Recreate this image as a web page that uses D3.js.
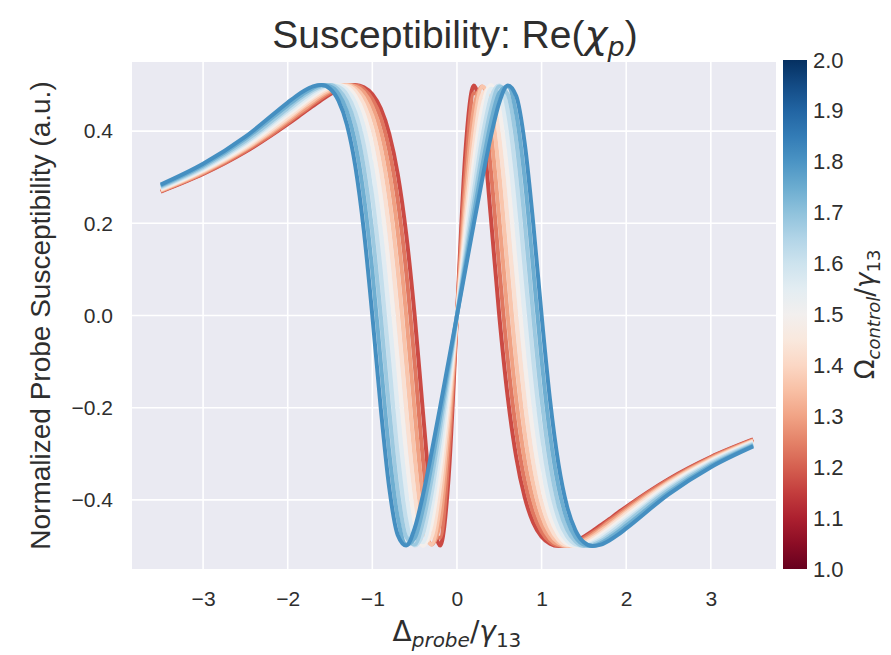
<!DOCTYPE html>
<html>
<head>
<meta charset="utf-8">
<script src="https://cdnjs.cloudflare.com/ajax/libs/d3/7.8.5/d3.min.js"></script>
<style>
  body { margin: 0; background: #fff; }
  text { font-family: "Liberation Sans", Arial, sans-serif; fill: #2e2e2e; }
  .math { font-family: "DejaVu Sans", sans-serif; }
</style>
</head>
<body>
<div id="chart"></div>
<script>
// probe detuning (units of gamma13), shared by all curves
var detuning = [-3.5, -3, -2.5, -2, -1.9, -1.8, -1.7, -1.6, -1.5, -1.4, -1.3, -1.2, -1.1, -1, -0.9, -0.8, -0.7, -0.6, -0.5, -0.4, -0.3, -0.2, -0.1,
  0, 0.1, 0.2, 0.3, 0.4, 0.5, 0.6, 0.7, 0.8, 0.9, 1, 1.1, 1.2, 1.3, 1.4, 1.5, 1.6, 1.7, 1.8, 1.9, 2, 2.5, 3, 3.5];

var omegas = [1.0, 1.1, 1.2, 1.3, 1.4, 1.5, 1.6, 1.7, 1.8, 1.9, 2.0];

var chi10 = [0.269, 0.307, 0.355, 0.415, 0.428, 0.442, 0.455, 0.468, 0.48, 0.49, 0.497, 0.5, 0.495, 0.48, 0.449, 0.394, 0.307, 0.177, 0, -0.214, -0.415, -0.499, -0.355,
  0, 0.355, 0.499, 0.415, 0.214, 0, -0.177, -0.307, -0.394, -0.449, -0.48, -0.495, -0.5, -0.497, -0.49, -0.48, -0.468, -0.455, -0.442, -0.428, -0.415, -0.355, -0.307, -0.269];
var chi11 = [0.27, 0.308, 0.357, 0.418, 0.432, 0.445, 0.459, 0.472, 0.483, 0.493, 0.499, 0.499, 0.491, 0.469, 0.428, 0.358, 0.25, 0.095, -0.104, -0.316, -0.472, -0.482, -0.306,
  0, 0.306, 0.482, 0.472, 0.316, 0.104, -0.095, -0.25, -0.358, -0.428, -0.469, -0.491, -0.499, -0.499, -0.493, -0.483, -0.472, -0.459, -0.445, -0.432, -0.418, -0.357, -0.308, -0.27];
var chi12 = [0.271, 0.31, 0.36, 0.422, 0.436, 0.449, 0.463, 0.476, 0.487, 0.496, 0.5, 0.497, 0.484, 0.454, 0.4, 0.312, 0.18, 0, -0.21, -0.4, -0.497, -0.449, -0.264,
  0, 0.264, 0.449, 0.497, 0.4, 0.21, 0, -0.18, -0.312, -0.4, -0.454, -0.484, -0.497, -0.5, -0.496, -0.487, -0.476, -0.463, -0.449, -0.436, -0.422, -0.36, -0.31, -0.271];
var chi13 = [0.272, 0.312, 0.362, 0.426, 0.44, 0.454, 0.467, 0.48, 0.49, 0.498, 0.5, 0.493, 0.473, 0.433, 0.363, 0.253, 0.096, -0.103, -0.308, -0.459, -0.497, -0.411, -0.229,
  0, 0.229, 0.411, 0.497, 0.459, 0.308, 0.103, -0.096, -0.253, -0.363, -0.433, -0.473, -0.493, -0.5, -0.498, -0.49, -0.48, -0.467, -0.454, -0.44, -0.426, -0.362, -0.312, -0.272];
var chi14 = [0.273, 0.314, 0.365, 0.43, 0.444, 0.458, 0.472, 0.484, 0.494, 0.499, 0.498, 0.487, 0.458, 0.405, 0.316, 0.181, 0, -0.207, -0.39, -0.491, -0.48, -0.371, -0.2,
  0, 0.2, 0.371, 0.48, 0.491, 0.39, 0.207, 0, -0.181, -0.316, -0.405, -0.458, -0.487, -0.498, -0.499, -0.494, -0.484, -0.472, -0.458, -0.444, -0.43, -0.365, -0.314, -0.273];
var chi15 = [0.275, 0.316, 0.368, 0.435, 0.449, 0.463, 0.476, 0.488, 0.497, 0.5, 0.495, 0.476, 0.437, 0.367, 0.256, 0.096, -0.102, -0.303, -0.449, -0.5, -0.453, -0.334, -0.175,
  0, 0.175, 0.334, 0.453, 0.5, 0.449, 0.303, 0.102, -0.096, -0.256, -0.367, -0.437, -0.476, -0.495, -0.5, -0.497, -0.488, -0.476, -0.463, -0.449, -0.435, -0.368, -0.316, -0.275];
var chi16 = [0.276, 0.318, 0.372, 0.44, 0.454, 0.468, 0.481, 0.492, 0.499, 0.499, 0.489, 0.462, 0.409, 0.319, 0.182, 0, -0.205, -0.383, -0.485, -0.492, -0.42, -0.3, -0.155,
  0, 0.155, 0.3, 0.42, 0.492, 0.485, 0.383, 0.205, 0, -0.182, -0.319, -0.409, -0.462, -0.489, -0.499, -0.499, -0.492, -0.481, -0.468, -0.454, -0.44, -0.372, -0.318, -0.276];
var chi17 = [0.278, 0.32, 0.375, 0.445, 0.459, 0.473, 0.486, 0.495, 0.5, 0.496, 0.479, 0.44, 0.37, 0.258, 0.096, -0.102, -0.299, -0.443, -0.499, -0.472, -0.387, -0.27, -0.138,
  0, 0.138, 0.27, 0.387, 0.472, 0.499, 0.443, 0.299, 0.102, -0.096, -0.258, -0.37, -0.44, -0.479, -0.496, -0.5, -0.495, -0.486, -0.473, -0.459, -0.445, -0.375, -0.32, -0.278];
var chi18 = [0.28, 0.323, 0.379, 0.45, 0.465, 0.478, 0.49, 0.498, 0.5, 0.49, 0.464, 0.412, 0.321, 0.183, 0, -0.203, -0.378, -0.48, -0.497, -0.446, -0.355, -0.243, -0.123,
  0, 0.123, 0.243, 0.355, 0.446, 0.497, 0.48, 0.378, 0.203, 0, -0.183, -0.321, -0.412, -0.464, -0.49, -0.5, -0.498, -0.49, -0.478, -0.465, -0.45, -0.379, -0.323, -0.28];
var chi19 = [0.282, 0.326, 0.384, 0.456, 0.47, 0.483, 0.494, 0.5, 0.497, 0.481, 0.443, 0.373, 0.259, 0.097, -0.102, -0.296, -0.437, -0.497, -0.483, -0.418, -0.325, -0.22, -0.111,
  0, 0.111, 0.22, 0.325, 0.418, 0.483, 0.497, 0.437, 0.296, 0.102, -0.097, -0.259, -0.373, -0.443, -0.481, -0.497, -0.5, -0.494, -0.483, -0.47, -0.456, -0.384, -0.326, -0.282];
var chi20 = [0.284, 0.329, 0.388, 0.462, 0.476, 0.488, 0.497, 0.5, 0.492, 0.466, 0.414, 0.323, 0.184, 0, -0.202, -0.374, -0.476, -0.499, -0.462, -0.388, -0.297, -0.2, -0.1,
  0, 0.1, 0.2, 0.297, 0.388, 0.462, 0.499, 0.476, 0.374, 0.202, 0, -0.184, -0.323, -0.414, -0.466, -0.492, -0.5, -0.497, -0.488, -0.476, -0.462, -0.388, -0.329, -0.284];

var curves = [chi10, chi11, chi12, chi13, chi14, chi15, chi16, chi17, chi18, chi19, chi20];

var xTicks = [-3, -2, -1, 0, 1, 2, 3];
var yTicks = [-0.4, -0.2, 0.0, 0.2, 0.4];
var cbarTicks = [1.0, 1.1, 1.2, 1.3, 1.4, 1.5, 1.6, 1.7, 1.8, 1.9, 2.0];

var margin = {top: 62, right: 115, bottom: 86, left: 132},
    width = 891 - margin.left - margin.right,
    height = 655 - margin.top - margin.bottom;

var xPositionScale = d3.scaleLinear().domain([-3.84, 3.77]).range([0, width]);
var yPositionScale = d3.scaleLinear().domain([-0.55, 0.55]).range([height, 0]);

// line colours only cover the middle of the colormap
var colorPos = d3.scaleLinear().domain([1, 2]).range([0.17, 0.81]);

var root = d3.select("#chart")
      .append("svg")
      .attr("width", 891)
      .attr("height", 655);

var svg = root.append("g")
      .attr("transform", "translate(" + margin.left + "," + margin.top + ")");

svg.append("rect")
    .attr("width", width)
    .attr("height", height)
    .attr("fill", "#eaeaf2");

// grid
svg.selectAll(".xgrid")
    .data(xTicks)
    .enter().append("line")
    .attr("x1", function(d) { return xPositionScale(d); })
    .attr("x2", function(d) { return xPositionScale(d); })
    .attr("y1", 0)
    .attr("y2", height)
    .attr("stroke", "#fff")
    .attr("stroke-width", 1.6);

svg.selectAll(".ygrid")
    .data(yTicks)
    .enter().append("line")
    .attr("x1", 0)
    .attr("x2", width)
    .attr("y1", function(d) { return yPositionScale(d); })
    .attr("y2", function(d) { return yPositionScale(d); })
    .attr("stroke", "#fff")
    .attr("stroke-width", 1.6);

var line = d3.line()
    .x(function(d, i) { return xPositionScale(detuning[i]); })
    .y(function(d) { return yPositionScale(d); })
    .curve(d3.curveMonotoneX);

svg.selectAll(".curve")
    .data(curves)
    .enter().append("path")
    .attr("class", "curve")
    .attr("d", line)
    .attr("fill", "none")
    .attr("stroke", function(d, i) { return d3.interpolateRdBu(colorPos(omegas[i])); })
    .attr("stroke-width", 4)
    .attr("stroke-linejoin", "round");

// axes (labels only, seaborn style)
var xAxis = d3.axisBottom(xPositionScale)
    .tickValues(xTicks)
    .tickSize(0)
    .tickPadding(22)
    .tickFormat(function(d) { return d3.format("d")(d).replace("-", "\u2212"); });

var xg = svg.append("g")
    .attr("transform", "translate(0," + height + ")")
    .call(xAxis);

var yAxis = d3.axisLeft(yPositionScale)
    .tickValues(yTicks)
    .tickSize(0)
    .tickPadding(19)
    .tickFormat(function(d) { return d3.format(".1f")(d).replace("-", "\u2212"); });

var yg = svg.append("g").call(yAxis);

[xg, yg].forEach(function(g) {
  g.select(".domain").remove();
  g.selectAll("text").style("font-size", "21px").attr("fill", "#2e2e2e");
});

// title
var title = root.append("text")
    .attr("x", 455)
    .attr("y", 48)
    .attr("text-anchor", "middle")
    .style("font-size", "39px");
title.append("tspan").text("Susceptibility: Re(");
title.append("tspan").attr("class", "math").style("font-style", "italic").text("\u03c7");
title.append("tspan").attr("class", "math").style("font-style", "italic")
    .style("font-size", "27px").attr("dy", 8).text("p");
title.append("tspan").attr("dy", -8).text(")");

// y label
root.append("text")
    .attr("transform", "translate(50," + (margin.top + height / 2) + ") rotate(-90)")
    .attr("text-anchor", "middle")
    .style("font-size", "28px")
    .text("Normalized Probe Susceptibility (a.u.)");

// x label
var xl = root.append("text")
    .attr("x", margin.left + xPositionScale(0))
    .attr("y", 641)
    .attr("text-anchor", "middle")
    .style("font-size", "28px");
xl.append("tspan").attr("class", "math").text("\u0394");
xl.append("tspan").attr("class", "math").style("font-style", "italic")
    .style("font-size", "20px").attr("dy", 6).text("probe");
xl.append("tspan").attr("class", "math").attr("dy", -6).text("/");
xl.append("tspan").attr("class", "math").style("font-style", "italic").text("\u03b3");
xl.append("tspan").attr("class", "math").style("font-size", "20px").attr("dy", 6).text("13");

// colorbar
var cbarX = 783, cbarW = 24, cbarTop = 60, cbarBottom = 569;
var cScale = d3.scaleLinear().domain([1, 2]).range([cbarBottom, cbarTop]);

var grad = root.append("defs").append("linearGradient")
    .attr("id", "rdbu")
    .attr("x1", 0).attr("y1", 1).attr("x2", 0).attr("y2", 0);
grad.selectAll("stop")
    .data(d3.range(0, 1.0001, 0.05))
    .enter().append("stop")
    .attr("offset", function(d) { return d; })
    .attr("stop-color", function(d) { return d3.interpolateRdBu(d); });

root.append("rect")
    .attr("x", cbarX)
    .attr("y", cbarTop)
    .attr("width", cbarW)
    .attr("height", cbarBottom - cbarTop)
    .attr("fill", "url(#rdbu)");

var cAxis = d3.axisRight(cScale)
    .tickValues(cbarTicks)
    .tickSize(0)
    .tickPadding(6)
    .tickFormat(d3.format(".1f"));

var cg = root.append("g")
    .attr("transform", "translate(" + (cbarX + cbarW) + ",0)")
    .call(cAxis);
cg.select(".domain").remove();
cg.selectAll("text").style("font-size", "22px").attr("fill", "#2e2e2e");

var cl = root.append("text")
    .attr("transform", "translate(874," + ((cbarTop + cbarBottom) / 2) + ") rotate(-90)")
    .attr("text-anchor", "middle")
    .style("font-size", "26px");
cl.append("tspan").attr("class", "math").text("\u03a9");
cl.append("tspan").attr("class", "math").style("font-style", "italic")
    .style("font-size", "18px").attr("dy", 6).text("control");
cl.append("tspan").attr("class", "math").attr("dy", -6).text("/");
cl.append("tspan").attr("class", "math").style("font-style", "italic").text("\u03b3");
cl.append("tspan").attr("class", "math").style("font-size", "18px").attr("dy", 6).text("13");
</script>
</body>
</html>
